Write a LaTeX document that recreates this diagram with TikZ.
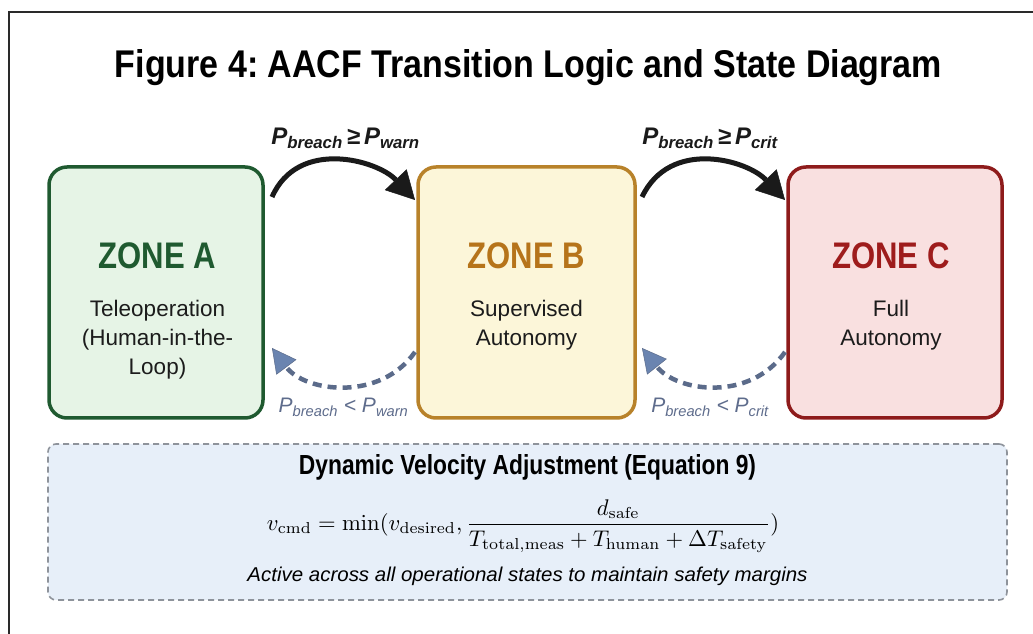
\documentclass[tikz,border=0pt]{standalone}
\usepackage[no-math]{fontspec}
\setmainfont{Liberation Sans}
\usepackage{graphicx}
\usetikzlibrary{arrows.meta,calc}
\definecolor{framecol}{HTML}{2A2A2A}
\definecolor{agreen}{HTML}{1F5A30}
\definecolor{afill}{HTML}{E6F4E6}
\definecolor{bbrown}{HTML}{B8822A}
\definecolor{btext}{HTML}{B6741A}
\definecolor{bfill}{HTML}{FCF6D9}
\definecolor{cred}{HTML}{8E1B1B}
\definecolor{ctext}{HTML}{9E1C1C}
\definecolor{cfill}{HTML}{F9E0E0}
\definecolor{textdark}{HTML}{1C1C1C}
\definecolor{arrowblack}{HTML}{1A1A1A}
\definecolor{dashblue}{HTML}{5B6B8A}
\definecolor{headblue}{HTML}{6A84B0}
\definecolor{labelblue}{HTML}{5E6C8C}
\definecolor{eqfill}{HTML}{E7EFF9}
\definecolor{eqline}{HTML}{8E939B}
\newcommand{\fs}[1]{\fontsize{#1}{#1}\selectfont}
\newcommand{\ztitle}[1]{\scalebox{0.84}[1]{#1}}
\frenchspacing
\begin{document}
\begin{tikzpicture}[x=1pt,y=1pt,
  zonebox/.style={line width=3.5pt, rounded corners=18pt, minimum width=214pt,
    minimum height=251pt, inner sep=0pt, outer sep=0pt},
  zonetitle/.style={anchor=base, font=\fs{37}\bfseries, inner sep=0pt},
  zonesub/.style={anchor=base, font=\fs{22.5}, text=textdark, inner sep=0pt},
  uplabel/.style={anchor=base, font=\fs{24}\bfseries\itshape, text=arrowblack, inner sep=0pt},
  downlabel/.style={anchor=base, font=\fs{21}\itshape, text=labelblue, inner sep=0pt},
  fwd/.style={line width=5pt, draw=arrowblack,
    -{Triangle[length=28pt,width=30pt,line width=0.5pt]}},
  bwd/.style={line width=4.5pt, draw=dashblue, dash pattern=on 9pt off 6pt,
    -{Triangle[length=24pt,width=25pt,line width=0.5pt,fill=headblue]}},
  eqbox/.style={draw=eqline, fill=eqfill, line width=1.6pt, dash pattern=on 6pt off 4pt,
    rounded corners=8pt, minimum width=959pt, minimum height=156pt, inner sep=0pt}
]
\useasboundingbox (0,0) rectangle (1033,634);
\fill[white] (0,0) rectangle (1033,634);
\draw[framecol, line width=2pt] (9,-2) |- (1036,622);

% title
\node[anchor=base, inner sep=0pt] (title) at (528.5,556)
  {\resizebox{827pt}{28pt}{\bfseries Figure 4: AACF Transition Logic and State Diagram}};

% zones
\node[zonebox, draw=agreen, fill=afill] (A) at (156,341.5) {};
\node[zonebox, draw=bbrown, fill=bfill, minimum width=217pt] (B) at (526.5,341.5) {};
\node[zonebox, draw=cred, fill=cfill] (C) at (895,341.5) {};

\node[zonetitle, text=agreen] (At) at (157.5,365) {\ztitle{ZONE A}};
\node[zonesub] (A1) at (157.5,317) {Teleoperation};
\node[zonesub] (A2) at (157.5,288) {(Human-in-the-};
\node[zonesub] (A3) at (157.5,259) {Loop)};

\node[zonetitle, text=btext] (Bt) at (526.5,365) {\ztitle{ZONE B}};
\node[zonesub] (B1) at (526.5,317) {Supervised};
\node[zonesub] (B2) at (526.5,288) {Autonomy};

\node[zonetitle, text=ctext] (Ct) at (891,365) {\ztitle{ZONE C}};
\node[zonesub] (C1) at (891,317) {Full};
\node[zonesub] (C2) at (891,288) {Autonomy};

% forward transitions
\draw[fwd] ($(A.north east)+(9,-30)$) .. controls ($(A.north east)+(35,29)$) and ($(B.north west)+(-41,7)$) .. ($(B.north west)+(-3,-33)$);
\draw[fwd] ($(B.north east)+(7,-30)$) .. controls ($(B.north east)+(35,29)$) and ($(C.north west)+(-41,7)$) .. ($(C.north west)+(-3,-33)$);
\node[uplabel] (l1) at (345.5,489) {P\textsubscript{breach}\,≥\,P\textsubscript{warn}};
\node[uplabel] (l2) at (710,489) {P\textsubscript{breach}\,≥\,P\textsubscript{crit}};

% backward transitions
\draw[bwd] ($(B.north west)+(-3,-185)$) .. controls ($(B.south west)+(-38,16)$) and ($(A.south east)+(42,26)$) .. ($(A.north east)+(9,-181)$);
\draw[bwd] ($(C.north west)+(-3,-185)$) .. controls ($(C.south west)+(-38,16)$) and ($(B.south east)+(42,26)$) .. ($(B.north east)+(7,-181)$);
\node[downlabel] (l3) at (343.5,221) {P\textsubscript{breach}\ <\ P\textsubscript{warn}};
\node[downlabel] (l4) at (710,221) {P\textsubscript{breach}\ <\ P\textsubscript{crit}};

% equation box
\node[eqbox] (E) at (527.5,112) {};
\node[anchor=base, inner sep=0pt] (Et) at (527.5,159)
  {\resizebox{457pt}{20pt}{\bfseries Dynamic Velocity Adjustment (Equation 9)}};
\node[inner sep=0pt] (Eq) at (523,108)
  {\resizebox{512pt}{!}{$\displaystyle v_{\mathrm{cmd}} = \min(v_{\mathrm{desired}}, \frac{d_{\mathrm{safe}}}{T_{\mathrm{total,meas}} + T_{\mathrm{human}} + \Delta T_{\mathrm{safety}}})$}};
\node[anchor=base, inner sep=0pt] (Ea) at (527.5,52)
  {\resizebox{560pt}{14.5pt}{\itshape Active across all operational states to maintain safety margins}};
\end{tikzpicture}
\end{document}
